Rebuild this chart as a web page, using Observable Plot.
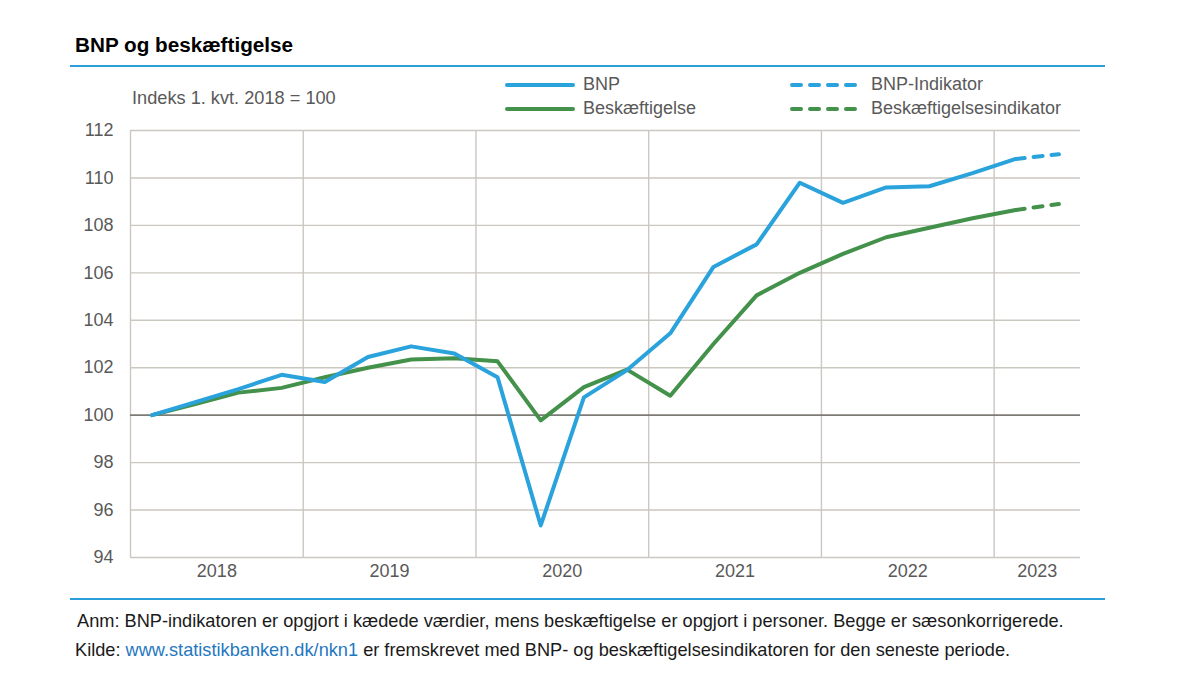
<!DOCTYPE html>
<html><head><meta charset="utf-8">
<script src="https://cdn.jsdelivr.net/npm/d3@7"></script>
<script src="https://cdn.jsdelivr.net/npm/@observablehq/plot@0.6"></script>
<style>
body{margin:0;background:#fff;font-family:"Liberation Sans",Arial,sans-serif;}
#wrap{position:relative;width:1200px;height:685px;overflow:hidden;background:#fff;}
.abs{position:absolute;white-space:nowrap;}
.rule{position:absolute;height:2px;background:#2b9fd9;}
.leg{position:absolute;font-size:18px;line-height:20px;color:#595959;}
.note{position:absolute;font-size:18.2px;line-height:20px;color:#1a1a1a;white-space:nowrap;}
</style></head><body>
<div id="wrap">
  <div class="abs" style="left:75px;top:33px;font-size:20.7px;line-height:24px;font-weight:bold;color:#000;">BNP og beskæftigelse</div>
  <div class="rule" style="left:70px;top:65px;width:1035px;"></div>
  <div id="chart" class="abs" style="left:0;top:70px;"></div>
  <div class="abs" style="left:132px;top:87px;font-size:18.2px;line-height:22px;color:#595959;">Indeks 1. kvt. 2018 = 100</div>
  <div id="legend"></div>
  <div class="rule" style="left:70px;top:598px;width:1035px;"></div>
  <div class="note" style="left:77px;top:611px;">Anm: BNP-indikatoren er opgjort i kædede værdier, mens beskæftigelse er opgjort i personer. Begge er sæsonkorrigerede.</div>
  <div class="note" style="left:75px;top:640px;">Kilde: <span style="color:#1f78c1;">www.statistikbanken.dk/nkn1</span> er fremskrevet med BNP- og beskæftigelsesindikatoren for den seneste periode.</div>
</div>
<script>
// ---- data ----
const quarters = ["2018K1","2018K2","2018K3","2018K4","2019K1","2019K2","2019K3","2019K4",
  "2020K1","2020K2","2020K3","2020K4","2021K1","2021K2","2021K3","2021K4",
  "2022K1","2022K2","2022K3","2022K4","2023K1","2023K2"];
const bnp = [100.0, 100.55, 101.1, 101.7, 101.4, 102.45, 102.9, 102.6, 101.6, 95.35, 100.75, 101.9,
  103.45, 106.25, 107.2, 109.8, 108.95, 109.6, 109.65, 110.2, 110.8];
const beskaeftigelse = [100.0, 100.47, 100.95, 101.15, 101.6, 102.0, 102.35, 102.4, 102.27, 99.78, 101.18, 101.92,
  100.82, 103.0, 105.05, 106.0, 106.8, 107.5, 107.9, 108.3, 108.65];
const indikatorQuarters = ["2023K1","2023K2"];
const bnpIndikator = [110.8, 111.0];
const beskIndikator = [108.65, 108.9];
const yTicks = [94, 96, 98, 100, 102, 104, 106, 108, 110, 112];
const legendItems = [
  {label: "BNP", color: "#2aa2dc", dashed: false},
  {label: "Beskæftigelse", color: "#43914a", dashed: false},
  {label: "BNP-Indikator", color: "#2aa2dc", dashed: true},
  {label: "Beskæftigelsesindikator", color: "#43914a", dashed: true}
];

const BLUE = "#2aa2dc", GREEN = "#43914a", GRID = "#cbc7c1", BASE = "#7e7b77";
const qi = q => quarters.indexOf(q);
const toRows = (qs, vals) => vals.map((v, k) => ({x: qi(qs[k]), v}));
const bnpRows = toRows(quarters, bnp);
const empRows = toRows(quarters, beskaeftigelse);
const bnpIndRows = toRows(indikatorQuarters, bnpIndikator);
const empIndRows = toRows(indikatorQuarters, beskIndikator);

const years = Array.from(new Set(quarters.map(q => q.slice(0, 4))));
const yearLabels = years.map(y => {
  const idx = quarters.map((q, i) => q.startsWith(y) ? i : null).filter(i => i !== null);
  return {year: y, x: d3.mean(idx), start: d3.min(idx) - 0.5};
});

const chart = Plot.plot({
  width: 1200, height: 525,
  marginLeft: 130, marginRight: 120, marginTop: 60, marginBottom: 38,
  style: {fontFamily: "'Liberation Sans', Arial, sans-serif", fontSize: "18px", color: "#595959", background: "transparent"},
  x: {type: "linear", domain: [-0.5, quarters.length - 0.5], axis: null},
  y: {domain: [94, 112]},
  marks: [
    Plot.ruleY(yTicks.filter(v => v !== 100), {stroke: GRID, strokeWidth: 1.4}),
    Plot.ruleX(yearLabels, {x: "start", y1: 94, y2: 112, stroke: GRID, strokeWidth: 1.4}),
    Plot.ruleY([100], {stroke: BASE, strokeWidth: 1.6}),
    Plot.line(bnpIndRows, {x: "x", y: "v", stroke: BLUE, strokeWidth: 4, strokeDasharray: "9,9", strokeLinecap: "round"}),
    Plot.line(empIndRows, {x: "x", y: "v", stroke: GREEN, strokeWidth: 4, strokeDasharray: "9,9", strokeLinecap: "round"}),
    Plot.line(empRows, {x: "x", y: "v", stroke: GREEN, strokeWidth: 4, strokeLinejoin: "round", strokeLinecap: "round"}),
    Plot.line(bnpRows, {x: "x", y: "v", stroke: BLUE, strokeWidth: 4, strokeLinejoin: "round", strokeLinecap: "round"}),
    Plot.axisY(yTicks, {tickSize: 0, tickPadding: 17, fontSize: 18, label: null, fill: "#595959"}),
    Plot.text(yearLabels, {x: "x", text: "year", frameAnchor: "bottom", dy: 19, fontSize: 18, fill: "#595959"})
  ]
});
document.getElementById("chart").appendChild(chart);

// legend (HTML, overlaid at top of plot)
const legend = document.getElementById("legend");
const cols = [{sw: 505, tx: 583}, {sw: 790, tx: 871}];
const rows = [85, 109];
legendItems.forEach((d, k) => {
  const c = cols[Math.floor(k / 2)], r = rows[k % 2];
  const sw = document.createElementNS("http://www.w3.org/2000/svg", "svg");
  sw.setAttribute("width", 72); sw.setAttribute("height", 8);
  sw.style.position = "absolute"; sw.style.left = c.sw + "px"; sw.style.top = (r - 4) + "px";
  const ln = document.createElementNS("http://www.w3.org/2000/svg", "line");
  ln.setAttribute("x1", 2); ln.setAttribute("x2", 68); ln.setAttribute("y1", 4); ln.setAttribute("y2", 4);
  ln.setAttribute("stroke", d.color); ln.setAttribute("stroke-width", 4); ln.setAttribute("stroke-linecap", "round");
  if (d.dashed) ln.setAttribute("stroke-dasharray", "9,9");
  sw.appendChild(ln);
  legend.appendChild(sw);
  const t = document.createElement("div");
  t.className = "leg"; t.textContent = d.label;
  t.style.left = c.tx + "px"; t.style.top = (r - 11) + "px";
  legend.appendChild(t);
});
</script>
</body></html>
